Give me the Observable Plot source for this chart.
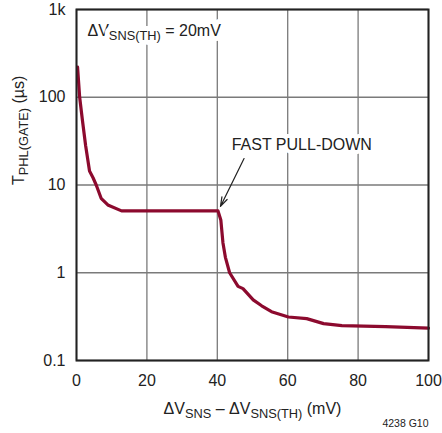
<!DOCTYPE html>
<html>
<head>
<meta charset="utf-8">
<script src="https://cdn.jsdelivr.net/npm/d3@7"></script>
<script src="https://cdn.jsdelivr.net/npm/@observablehq/plot@0.6"></script>
<style>
  html, body { margin: 0; padding: 0; background: #fff; }
</style>
</head>
<body>
<div id="chart"></div>
<script>
// ---- data ----
const xValues = [0.3, 0.9, 1.7, 2.6, 3.7, 4.7, 5.6, 7.0, 8.9, 12.8, 40.2, 41.0, 41.6, 42.3, 43.5, 45.9, 47.3, 50.2, 52.6, 55.4, 60.2, 65.4, 70.2, 75.4, 87.8, 100];
const yValues = [220, 100, 54, 28, 14.4, 12.1, 10, 7.06, 5.93, 5.07, 5.07, 4.0, 2.2, 1.5, 1.0, 0.70, 0.66, 0.49, 0.42, 0.36, 0.313, 0.30, 0.263, 0.25, 0.243, 0.234];
const xTicks = [0, 20, 40, 60, 80, 100];
const yTicks = [0.1, 1, 10, 100, 1000];
const yTickLabels = ["0.1", "1", "10", "100", "1k"];
const arrowFrom = {x: 47.6, y: 20};
const arrowTo = {x: 40.9, y: 5.7};
const noteText = "FAST PULL-DOWN";
const notePos = {x: 64, y: 28.5};

const data = xValues.map((x, i) => ({x, y: yValues[i]}));
const FONT = "'Liberation Sans', Arial, sans-serif";

const chart = Plot.plot({
  width: 442,
  height: 433,
  marginLeft: 76,
  marginRight: 14,
  marginTop: 9,
  marginBottom: 73,
  style: {fontFamily: FONT, fontSize: "16px", color: "#222", background: "#fff"},
  x: {domain: [0, 100], ticks: xTicks, tickSize: 0, tickPadding: 14, label: null},
  y: {type: "log", domain: [0.1, 1000], ticks: yTicks, tickSize: 0, tickPadding: 11, label: null,
      tickFormat: d => yTickLabels[yTicks.indexOf(d)]},
  marks: [
    Plot.ruleX(xTicks, {stroke: "#7a7a7a", strokeWidth: 1.3}),
    Plot.ruleY(yTicks, {stroke: "#7a7a7a", strokeWidth: 1.3}),
    Plot.text(["TOPNOTE"], {frameAnchor: "top-left", dx: 11, dy: 21, textAnchor: "start", lineAnchor: "middle",
      fontSize: 16, fill: "#222", stroke: "white", strokeWidth: 10}),
    Plot.text([notePos], {x: "x", y: "y", text: () => noteText, fontSize: 16, fill: "#222", lineAnchor: "middle",
      stroke: "white", strokeWidth: 8}),
    Plot.arrow([{x1: arrowFrom.x, y1: arrowFrom.y, x2: arrowTo.x, y2: arrowTo.y}],
      {x1: "x1", y1: "y1", x2: "x2", y2: "y2", stroke: "#222", strokeWidth: 1.2, headLength: 12, headAngle: 35}),
    Plot.line(data, {x: "x", y: "y", stroke: "#8c0a2e", strokeWidth: 3.2, strokeLinejoin: "round"}),
    Plot.frame({stroke: "#222", strokeWidth: 2}),
    Plot.text(["XLABEL"], {frameAnchor: "bottom", dy: 48, lineAnchor: "middle", fontSize: 16, fill: "#222"}),
    Plot.text(["YLABEL"], {frameAnchor: "left", dx: -58, rotate: -90, lineAnchor: "middle", fontSize: 16, fill: "#222"}),
    Plot.text(["4238 G10"], {frameAnchor: "bottom-right", dy: 63, textAnchor: "end", lineAnchor: "middle", fontSize: 10.5, fill: "#222"})
  ]
});

document.getElementById("chart").appendChild(chart);

// rich text with subscripts
function setRich(placeholder, parts) {
  const t = d3.select(chart).selectAll("text").filter(function() { return this.textContent === placeholder; });
  t.text(null);
  let down = false;
  parts.forEach(([s, sub]) => {
    const ts = t.append("tspan").text(s);
    if (sub && !down) { ts.attr("dy", "4").attr("font-size", "0.8em"); down = true; }
    else if (sub) { ts.attr("font-size", "0.8em"); }
    else if (!sub && down) { ts.attr("dy", "-4"); down = false; }
  });
}
setRich("TOPNOTE", [["ΔV", false], ["SNS(TH)", true], [" = 20mV", false]]);
setRich("XLABEL", [["ΔV", false], ["SNS", true], [" – ΔV", false], ["SNS(TH)", true], [" (mV)", false]]);
setRich("YLABEL", [["T", false], ["PHL(GATE)", true], [" (µs)", false]]);
</script>
</body>
</html>
